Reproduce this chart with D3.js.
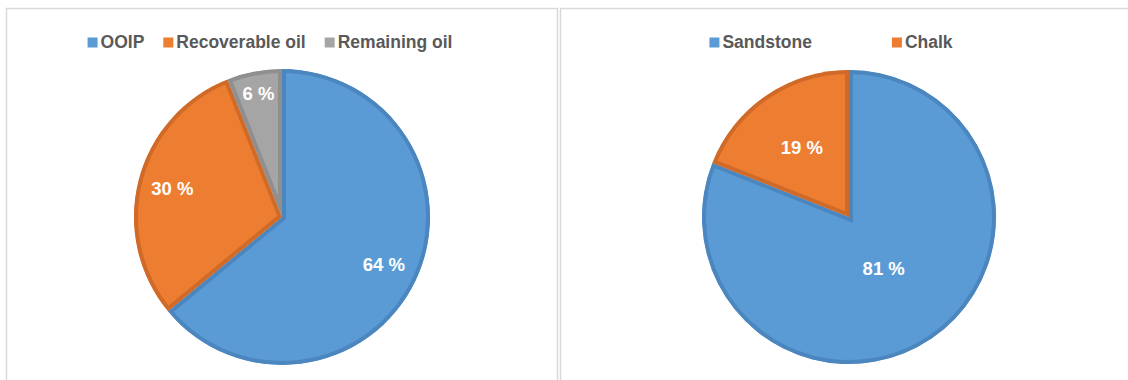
<!DOCTYPE html>
<html>
<head>
<meta charset="utf-8">
<script src="https://d3js.org/d3.v7.min.js"></script>
<style>
body { margin: 0; background: #fff; }
svg { display: block; font-family: "Liberation Sans", Arial, sans-serif; }
.legend text { font-size: 17.5px; font-weight: bold; fill: #595959; }
.label { font-size: 18.5px; font-weight: bold; fill: #fff; }
.frame { fill: none; stroke: #d9d9d9; stroke-width: 1.5; }
</style>
</head>
<body>
<svg id="chart"></svg>
<script>
// left chart
var oilNames = ["OOIP", "Recoverable oil", "Remaining oil"];
var oilValues = [64, 30, 6];
var oilColors = ["#5b9bd5", "#ed7d31", "#a5a5a5"];
var oilBorders = ["#4b86bf", "#d06a28", "#8f8f8f"];

// right chart
var rockNames = ["Sandstone", "Chalk"];
var rockValues = [81, 19];
var rockColors = ["#5b9bd5", "#ed7d31"];
var rockBorders = ["#4b86bf", "#d06a28"];

var width = 1128, height = 380;
var svg = d3.select("#chart").attr("width", width).attr("height", height);

// panel frames
svg.append("path").attr("class", "frame")
    .attr("d", "M6.5,380 V8.5 H557.5 V380");
svg.append("path").attr("class", "frame")
    .attr("d", "M560.5,380 V8.5 H1128");

var clipId = 0;

function drawPie(cx, cy, r, names, values, colors, borders, labelR, legendCx, legendGap) {
    var g = svg.append("g").attr("transform", "translate(" + cx + "," + cy + ")");
    var pie = d3.pie().sort(null).value(function(d) { return d; });
    var arc = d3.arc().innerRadius(0).outerRadius(r);
    var arcs = pie(values);

    // inner border: stroke clipped to its own slice
    arcs.forEach(function(a, i) {
        var id = "clip" + (clipId++);
        g.append("clipPath").attr("id", id)
            .append("path").attr("d", arc(a));
        g.append("path")
            .attr("d", arc(a))
            .attr("fill", colors[i])
            .attr("stroke", borders[i])
            .attr("stroke-width", 8)
            .attr("clip-path", "url(#" + id + ")");
    });

    arcs.forEach(function(a, i) {
        var la = d3.arc().innerRadius(r * labelR[i]).outerRadius(r * labelR[i]);
        var c = la.centroid(a);
        g.append("text").attr("class", "label")
            .attr("x", c[0]).attr("y", c[1])
            .attr("text-anchor", "middle")
            .attr("dy", "0.35em")
            .text(values[i] + " %");
    });

    // legend
    var lg = svg.append("g").attr("class", "legend");
    var items = names.map(function(n, i) {
        var it = lg.append("g");
        it.append("rect").attr("x", 0).attr("y", -10.5).attr("width", 10).attr("height", 10)
            .attr("fill", colors[i]);
        var t = it.append("text").attr("x", 13).attr("y", 0).text(n);
        return { g: it, w: 13 + t.node().getComputedTextLength() };
    });
    var total = d3.sum(items, function(d) { return d.w; }) + legendGap * (items.length - 1);
    var x = legendCx - total / 2;
    items.forEach(function(it) {
        it.g.attr("transform", "translate(" + x + ",48)");
        x += it.w + legendGap;
    });
}

drawPie(282, 217, 148, oilNames, oilValues, oilColors, oilBorders, [0.76, 0.765, 0.85], 270, 19);
drawPie(849, 217, 147, rockNames, rockValues, rockColors, rockBorders, [0.42, 0.57], 831, 80);
</script>
</body>
</html>
